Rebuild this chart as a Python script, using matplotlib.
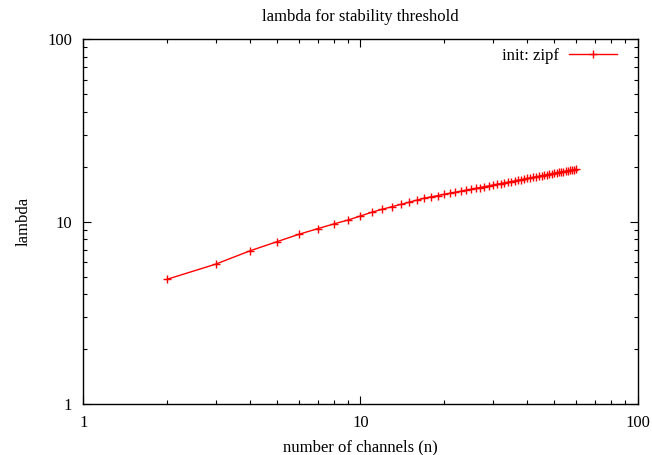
import matplotlib
matplotlib.use('Agg')
import matplotlib.pyplot as plt
from matplotlib.ticker import LogLocator, NullFormatter, FixedLocator, FixedFormatter

# number of channels
channels = list(range(2, 61))
# lambda for stability threshold (init: zipf)
lam_zipf = [4.83, 5.85, 6.93, 7.77, 8.53, 9.15, 9.71, 10.20, 10.74,
            11.27, 11.70, 12.08, 12.44, 12.79, 13.13, 13.45, 13.67, 13.89, 14.10,
            14.30, 14.49, 14.68, 14.86, 15.04, 15.21, 15.38, 15.54, 15.70, 15.86,
            16.01, 16.16, 16.30, 16.44, 16.58, 16.72, 16.85, 16.98, 17.11, 17.24,
            17.36, 17.48, 17.60, 17.72, 17.84, 17.95, 18.06, 18.17, 18.28, 18.39,
            18.50, 18.60, 18.70, 18.81, 18.91, 19.00, 19.10, 19.20, 19.29, 19.39]

x_ticks = [1, 10, 100]
y_ticks = [1, 10, 100]

plt.rcParams['font.family'] = ['Liberation Serif', 'DejaVu Serif']
plt.rcParams['font.size'] = 12

fig = plt.figure(figsize=(6.52, 4.55), dpi=100)
ax = fig.add_axes([0.1278, 0.1114, 0.978 - 0.1278, 0.9143 - 0.1114])

ax.plot(channels, lam_zipf, color='red', linewidth=1.0, marker='+',
        markersize=6, markeredgewidth=1.0, label='init: zipf')

ax.set_xscale('log')
ax.set_yscale('log')
ax.set_xlim(1, 100)
ax.set_ylim(1, 100)

ax.xaxis.set_major_locator(FixedLocator(x_ticks))
ax.xaxis.set_major_formatter(FixedFormatter([str(v) for v in x_ticks]))
ax.yaxis.set_major_locator(FixedLocator(y_ticks))
ax.yaxis.set_major_formatter(FixedFormatter([str(v) for v in y_ticks]))
ax.xaxis.set_minor_locator(LogLocator(base=10, subs=range(2, 10)))
ax.yaxis.set_minor_locator(LogLocator(base=10, subs=range(2, 10)))
ax.xaxis.set_minor_formatter(NullFormatter())
ax.yaxis.set_minor_formatter(NullFormatter())

ax.tick_params(which='both', direction='in', top=True, right=True, width=0.8)
ax.tick_params(which='major', length=6, pad=8, labelsize=12)
ax.tick_params(which='minor', length=3)
for s in ax.spines.values():
    s.set_linewidth(1.0)

ax.set_title('lambda for stability threshold', fontsize=12, pad=13)
ax.set_xlabel('number of channels (n)', fontsize=12, labelpad=6)
ax.set_ylabel('lambda', fontsize=12, labelpad=11)

ax.legend(loc='center right', bbox_to_anchor=(0.963, 0.953), frameon=False,
          markerfirst=False, handlelength=2.9, handletextpad=0.6,
          borderpad=0, borderaxespad=0, fontsize=12)

plt.savefig('out.png', dpi=100)
